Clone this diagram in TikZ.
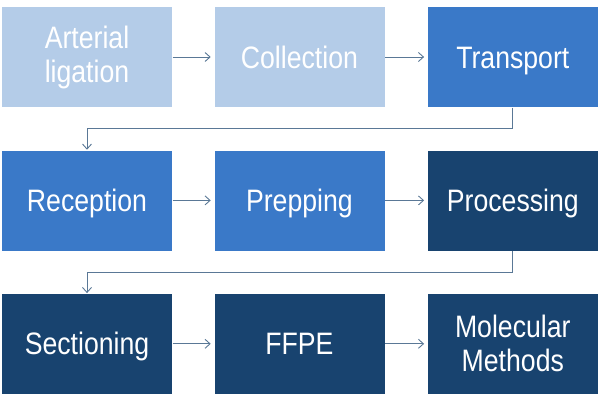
\documentclass[tikz,border=0pt]{standalone}
\usepackage{fontspec}
\setmainfont{Liberation Sans}[FakeStretch=0.86]
\usepackage{tikz}
\usetikzlibrary{arrows.meta, positioning, calc}
\definecolor{step_light}{HTML}{B4CCE8}
\definecolor{step_mid}{HTML}{3A79C8}
\definecolor{step_dark}{HTML}{18436F}
\definecolor{flow_line}{HTML}{5A7896}
\tikzset{
  stepbox/.style={rectangle,draw=white,line width=.4pt,text=white,minimum width=171pt,minimum height=101pt,inner sep=0pt,align=center,font=\fontsize{31}{34}\selectfont},
  oneline/.style={text height=26pt,text depth=4pt},
  stepbox_l/.style={stepbox,fill=step_light},
  stepbox_m/.style={stepbox,fill=step_mid,oneline},
  stepbox_d/.style={stepbox,fill=step_dark},
  flow/.style={draw=flow_line,line width=1pt,-{Straight Barb[length=5pt,width=9pt,line width=.9pt]},shorten >=3pt},
  turn/.style={draw=flow_line,line width=1pt,-{Straight Barb[length=5pt,width=9pt,line width=.9pt]}},
}

\begin{document}
\begin{tikzpicture}[x=1pt,y=1pt]
	    \useasboundingbox (0,0) rectangle (600,-402);
	    \node[stepbox_l] (ligation) at (87,-57) {Arterial\\ligation};
	    \node[stepbox_l,oneline,right=41pt of ligation] (collection) {Collection};
	    \node[stepbox_m,right=42pt of collection] (transport) {Transport};
	    \node[stepbox_m,below=42pt of ligation] (reception) {Reception};
	    \node[stepbox_m,right=41pt of reception] (prepping) {Prepping};
	    \node[stepbox_d,oneline,right=42pt of prepping] (processing) {Processing};
	    \node[stepbox_d,oneline,below=42pt of reception] (sectioning) {Sectioning};
	    \node[stepbox_d,oneline,right=41pt of sectioning] (ffpe) {FFPE};
	    \node[stepbox_d,right=42pt of ffpe] (methods) {Molecular\\Methods};
	    \coordinate (t1) at ($(transport.south)+(0,-21)$);
	    \coordinate (t2) at ($(processing.south)+(0,-21)$);
	    \draw[flow] (ligation) -- (collection);
	    \draw[flow] (collection) -- (transport);
	    \draw[turn] (transport.south) -- (t1) -| (reception.north);
	    \draw[flow] (reception) -- (prepping);
	    \draw[flow] (prepping) -- (processing);
	    \draw[turn] (processing.south) -- (t2) -| (sectioning.north);
	    \draw[flow] (sectioning) -- (ffpe);
	    \draw[flow] (ffpe) -- (methods);
	\end{tikzpicture}
\end{document}
